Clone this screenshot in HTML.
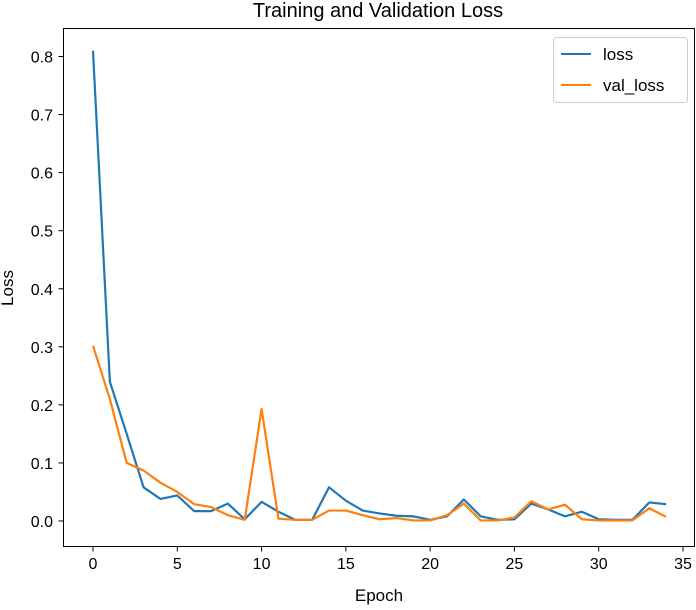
<!DOCTYPE html>
<html><head><meta charset="utf-8"><style>
body{margin:0;background:#fff;font-family:"Liberation Sans","DejaVu Sans",sans-serif}
svg text{font-family:"Liberation Sans","DejaVu Sans",sans-serif}
</style></head><body>
<svg id="chart" width="696" height="605" xmlns="http://www.w3.org/2000/svg">
<text x="378" y="17" font-size="20" text-anchor="middle">Training and Validation Loss</text>
<g id="plot"></g>
<rect x="63.5" y="28.5" width="631" height="518" fill="none" stroke="#000" stroke-width="1"/>
<text x="379" y="601" font-size="17" text-anchor="middle">Epoch</text>
<text x="0" y="0" font-size="17" text-anchor="middle" transform="translate(13,288) rotate(-90)">Loss</text>
<g>
<rect x="553.5" y="37.5" width="134" height="65" rx="3" fill="#fff" fill-opacity="0.8" stroke="#ccc"/>
<line x1="561" y1="54" x2="591" y2="54" stroke="#1f77b4" stroke-width="2"/>
<text x="603" y="60" font-size="17">loss</text>
<line x1="561" y1="85" x2="591" y2="85" stroke="#ff7f0e" stroke-width="2"/>
<text x="603" y="91" font-size="17">val_loss</text>
</g>
</svg>
<script>
const epochs=[...Array(35).keys()];
const lossValues=[0.81,0.24,0.15,0.058,0.038,0.044,0.017,0.017,0.03,0.003,0.033,0.016,0.002,0.002,0.058,0.035,0.018,0.013,0.009,0.008,0.002,0.008,0.037,0.008,0.002,0.003,0.03,0.02,0.008,0.016,0.003,0.002,0.002,0.032,0.029];
const valLossValues=[0.302,0.21,0.1,0.087,0.066,0.05,0.029,0.024,0.01,0.002,0.193,0.004,0.002,0.002,0.018,0.018,0.01,0.003,0.005,0.001,0.001,0.01,0.03,0.001,0.001,0.006,0.034,0.02,0.028,0.003,0.001,0.001,0.001,0.022,0.007];
const xTicks=[0,5,10,15,20,25,30,35];
const yTicks=[0,0.1,0.2,0.3,0.4,0.5,0.6,0.7,0.8];
const yTickLabels=["0.0","0.1","0.2","0.3","0.4","0.5","0.6","0.7","0.8"];
const NS="http://www.w3.org/2000/svg";
const xs=v=>93+v*(683-93)/35;
const ys=v=>521-v*(521-56.5)/0.8;
const g=document.getElementById('plot');
function mk(t,a){const e=document.createElementNS(NS,t);for(const k in a)e.setAttribute(k,a[k]);g.appendChild(e);return e;}
xTicks.forEach(t=>{
  const l=mk('line',{x1:xs(t),x2:xs(t),y1:546.5,y2:551.5,stroke:'#000'});
  
  
  const tx=mk('text',{x:xs(t),y:569,'font-size':16,'text-anchor':'middle'});tx.textContent=t;
  
  
});
yTicks.forEach((t,i)=>{
  const l=mk('line',{x1:58.5,x2:63.5,y1:ys(t),y2:ys(t),stroke:'#000'});
  
  
  const tx=mk('text',{x:53,y:ys(t)+6,'font-size':16,'text-anchor':'end'});tx.textContent=yTickLabels[i];
  
  
});
function line(vals,color,name){
  const p=mk('polyline',{points:vals.map((v,i)=>xs(epochs[i])+','+ys(v)).join(' '),fill:'none',stroke:color,'stroke-width':2.2,'stroke-linejoin':'round'});
  
  
}
line(lossValues,'#1f77b4','loss-line');
line(valLossValues,'#ff7f0e','val-loss-line');
</script>
</body></html>
